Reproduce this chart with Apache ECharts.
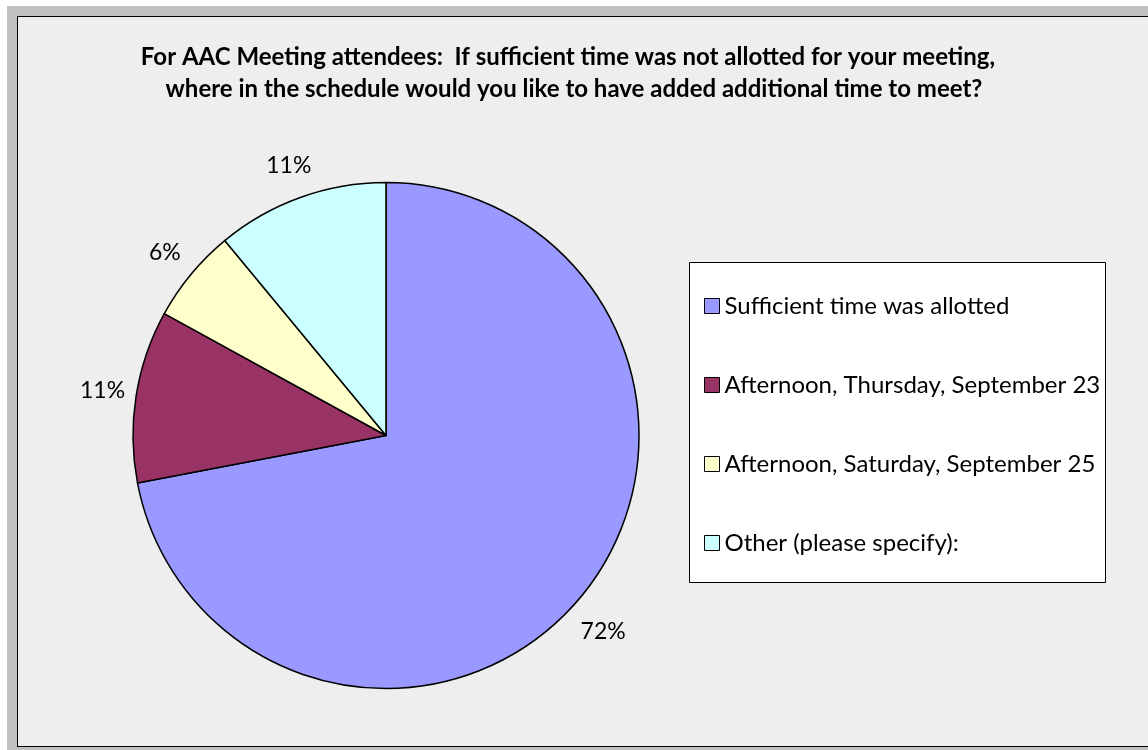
<!DOCTYPE html>
<html>
<head>
<meta charset="utf-8">
<title>AAC Meeting attendees</title>
<script src="https://cdn.jsdelivr.net/npm/echarts@6/dist/echarts.min.js"></script>
<style>
  body { margin: 0; background: #fff; width: 1148px; height: 750px; overflow: hidden; position: relative; }
  #outer { position: absolute; left: 7px; top: 6px; width: 1200px; height: 800px; background: #c0c0c0; }
  #main { position: absolute; left: 17px; top: 16px; width: 1160px; height: 729px; border: 1px solid #000; background: #eeeeee; }
</style>
</head>
<body>
<div id="outer"></div>
<div id="main"></div>
<script>
// 数据
var categories = ['Sufficient time was allotted', 'Afternoon, Thursday, September 23', 'Afternoon, Saturday, September 25', 'Other (please specify):'];
var values = [72, 11, 6, 11];
var colors = ['#9999ff', '#993366', '#ffffcc', '#ccffff'];
var titleLines = ['For AAC Meeting attendees:  If sufficient time was not allotted for your meeting,',
                  'where in the schedule would you like to have added additional time to meet?'];

var pieData = categories.map(function (c, i) {
    return { name: c, value: values[i], itemStyle: { color: colors[i] } };
});

function pct(p) { return Math.round(p.percent) + '%'; }

var myChart = echarts.init(document.getElementById('main'));
var option = {
    backgroundColor: '#eeeeee',
    animation: false,
    textStyle: { fontFamily: 'Lato' },
    graphic: [
        { type: 'text', x: 550, y: 40, z: 10,
          style: { text: titleLines[0], font: 'bold 24px Lato', fill: '#000', align: 'center', verticalAlign: 'middle' } },
        { type: 'text', x: 556, y: 72, z: 10,
          style: { text: titleLines[1], font: 'bold 24px Lato', fill: '#000', align: 'center', verticalAlign: 'middle' } },
        { type: 'rect', z: 1, shape: { x: 671.5, y: 245.5, width: 416, height: 320 },
          style: { fill: '#fff', stroke: '#000', lineWidth: 1 } }
    ],
    legend: {
        orient: 'vertical',
        left: 681,
        top: 271,
        itemWidth: 15,
        itemHeight: 15,
        itemGap: 53,
        itemTextGap: 6,
        icon: 'rect',
        selectedMode: false,
        itemStyle: { borderColor: '#000', borderWidth: 1 },
        textStyle: { fontFamily: 'Lato', fontSize: 24, lineHeight: 26, color: '#000' },
        data: categories
    },
    series: [{
        type: 'pie',
        center: [368, 418.5],
        radius: 253,
        startAngle: 90,
        clockwise: true,
        silent: true,
        itemStyle: { borderColor: '#000', borderWidth: 1.5 },
        label: { show: false },
        labelLine: { show: false },
        data: pieData
    }, {
        // 透明外圈，仅用于放百分比标签
        type: 'pie',
        center: [368, 418.5],
        radius: [277, 291],
        startAngle: 90,
        clockwise: true,
        silent: true,
        itemStyle: { color: 'rgba(0,0,0,0)', borderWidth: 0 },
        label: {
            show: true,
            position: 'inside',
            fontFamily: 'Lato',
            fontSize: 23,
            color: '#000',
            formatter: pct
        },
        labelLine: { show: false },
        data: categories.map(function (c, i) {
            var d = { name: c, value: values[i] };
            // 大扇区的标签离得稍远一些
            if (i === 0) d.label = {
                lineHeight: 26,
                padding: [0, 8, 0, 0],
                formatter: function (p) { return '\n' + pct(p); }
            };
            return d;
        })
    }]
};
myChart.setOption(option);
</script>
</body>
</html>
